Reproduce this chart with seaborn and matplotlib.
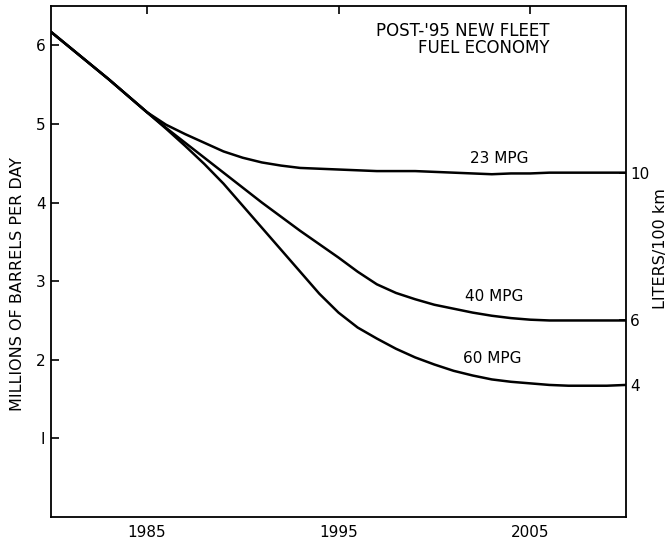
import numpy as np
import pandas as pd
import seaborn as sns
import matplotlib.pyplot as plt

# shared history, 1980-1985
years_common = [1980, 1981, 1982, 1983, 1984, 1985]
oil_common = [6.17, 5.97, 5.77, 5.57, 5.36, 5.15]

years_future = list(range(1986, 2011))
mpg_23 = [4.99, 4.87, 4.76, 4.65, 4.57, 4.51, 4.47, 4.44, 4.43, 4.42, 4.41, 4.40,
          4.40, 4.40, 4.39, 4.38, 4.37, 4.36, 4.37, 4.37, 4.38, 4.38, 4.38, 4.38, 4.38]
mpg_40 = [4.95, 4.76, 4.57, 4.38, 4.19, 4.00, 3.82, 3.64, 3.47, 3.30, 3.12, 2.96,
          2.85, 2.77, 2.70, 2.65, 2.60, 2.56, 2.53, 2.51, 2.50, 2.50, 2.50, 2.50, 2.50]
mpg_60 = [4.94, 4.72, 4.49, 4.24, 3.96, 3.68, 3.40, 3.12, 2.84, 2.60, 2.41, 2.27,
          2.14, 2.03, 1.94, 1.86, 1.80, 1.75, 1.72, 1.70, 1.68, 1.67, 1.67, 1.67, 1.68]

curve_labels = ['23 MPG', '40 MPG', '60 MPG']
liters_labels = ['10', '6', '4']

rows = []
for name, vals in zip(curve_labels, [mpg_23, mpg_40, mpg_60]):
    for yr, v in zip(years_common + years_future, oil_common + vals):
        rows.append({'year': yr, 'oil': v, 'fleet': name})
df = pd.DataFrame(rows)

sns.set_style('white')
plt.rcParams['font.family'] = ['DejaVu Sans']
plt.rcParams['text.color'] = 'black'
plt.rcParams['axes.labelcolor'] = 'black'

fig = plt.figure(figsize=(6.67, 5.44), dpi=100)
ax = fig.add_axes([0.0765, 0.0496, 0.862, 0.9394])

sns.lineplot(data=df, x='year', y='oil', units='fleet', estimator=None,
             color='black', linewidth=1.8, ax=ax, legend=False)

ax.set_xlim(1980, 2010)
ax.set_ylim(0, 6.5)
ax.set_xticks([1985, 1995, 2005])
ax.set_yticks([1, 2, 3, 4, 5, 6])
ax.set_yticklabels(['I', '2', '3', '4', '5', '6'])
ax.tick_params(axis='both', direction='in', length=6, width=1.2, labelsize=11,
               colors='black', top=True, pad=4)
ax.tick_params(axis='x', pad=6)
ax.set_xlabel('')
ax.set_ylabel('MILLIONS OF BARRELS PER DAY', fontsize=11.5)
ax.yaxis.set_label_coords(-0.045, 0.455)
for s in ax.spines.values():
    s.set_color('black')
    s.set_linewidth(1.3)

# right axis: liters per 100 km at the curve ends
ax2 = ax.twinx()
ax2.set_ylim(ax.get_ylim())
ends = [mpg_23[-1], mpg_40[-1], mpg_60[-1]]
ax2.set_yticks(ends)
ax2.set_yticklabels(liters_labels)
ax2.tick_params(axis='y', direction='in', length=5, width=1.2, labelsize=11,
                colors='black', pad=3)
ax2.set_ylabel('LITERS/100 km', fontsize=11.5, rotation=90)
ax2.yaxis.set_label_coords(1.047, 0.525)
for s in ax2.spines.values():
    s.set_visible(False)

ax.text(2006.0, 6.18, "POST-'95 NEW FLEET", ha='right', va='center', fontsize=12)
ax.text(2006.0, 5.97, 'FUEL ECONOMY', ha='right', va='center', fontsize=12)

label_pos = [(2003.4, 4.56), (2003.1, 2.80), (2003.0, 2.02)]
for name, (lx, ly) in zip(curve_labels, label_pos):
    ax.text(lx, ly, name, ha='center', va='center', fontsize=11)

fig.savefig('out.png', dpi=100)
